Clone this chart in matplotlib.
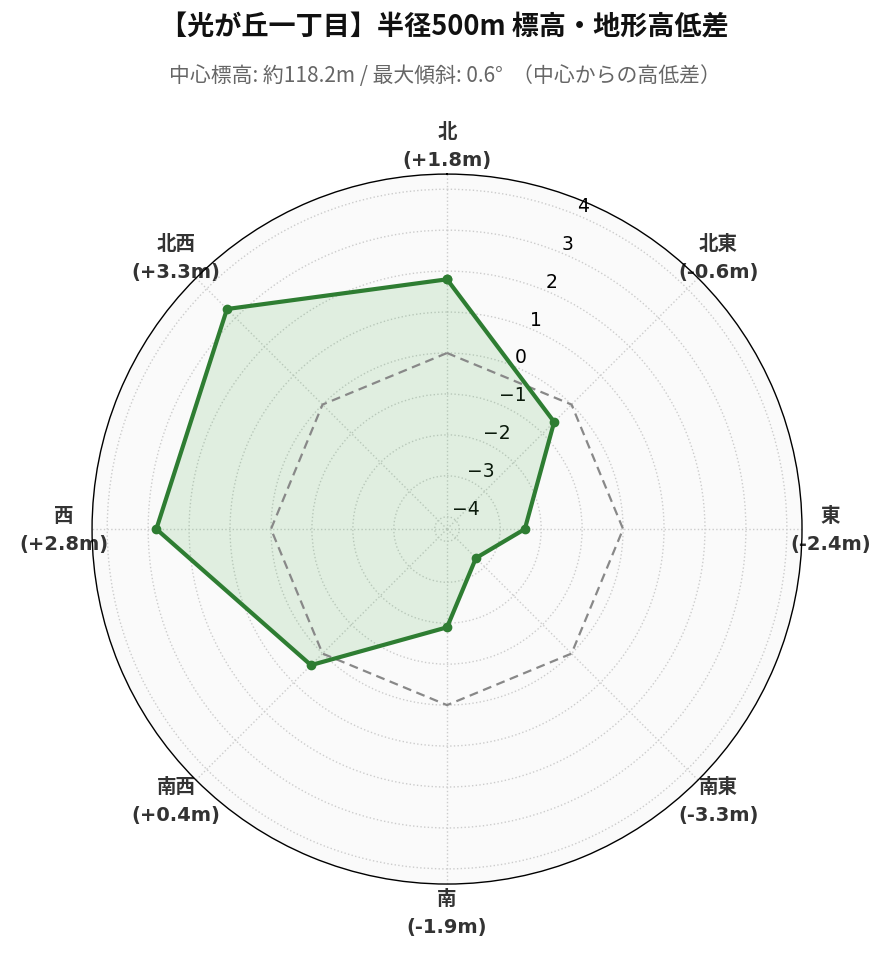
import matplotlib
matplotlib.use("Agg")
import matplotlib.pyplot as plt
import numpy as np

plt.rcParams['font.family'] = ['Noto Sans CJK JP', 'DejaVu Sans']

# data
directions = ['北', '北東', '東', '南東', '南', '南西', '西', '北西']
diffs = [1.8, -0.6, -2.4, -3.3, -1.9, 0.4, 2.8, 3.3]
radial_ticks = [-4, -3, -2, -1, 0, 1, 2, 3, 4]

title = '【光が丘一丁目】半径500m 標高・地形高低差'
subtitle = '中心標高: 約118.2m / 最大傾斜: 0.6°  （中心からの高低差）'

angles = np.deg2rad(np.arange(len(directions)) * 45.0)
ang_closed = np.append(angles, angles[0])
val_closed = np.append(diffs, diffs[0])

fig = plt.figure(figsize=(8.89, 9.62), dpi=100)
ax = fig.add_axes([0.1035, 0.080, 0.7987, 0.738], projection='polar')
ax.set_theta_zero_location('N')
ax.set_theta_direction(-1)
ax.set_facecolor('#fafafa')
ax.set_ylim(-4.3, 4.37)

# zero reference
ax.plot(ang_closed, np.zeros(len(ang_closed)), color='#888888', lw=1.6,
        ls=(0, (4, 2.5)), zorder=3)

ax.fill(ang_closed, val_closed, color='#4caf50', alpha=0.15, lw=0, zorder=2)
ax.plot(ang_closed, val_closed, color='#2e7d32', lw=3, marker='o',
        markersize=6, zorder=4)

ax.set_xticks(angles)
labels = ['%s\n(%+.1fm)' % (d, v) for d, v in zip(directions, diffs)]
ax.set_xticklabels(labels, fontsize=14, fontweight='bold', color='#333333',
                   linespacing=1.6, family=['DejaVu Sans', 'Noto Sans CJK JP'])
ax.tick_params(axis='x', pad=10)

ax.set_yticks(radial_ticks)
ax.set_yticklabels([str(t).replace('-', '\u2212') for t in radial_ticks],
                   fontsize=13.5, family='DejaVu Sans')
ax.set_rlabel_position(22.5)

ax.grid(True, color='#cccccc', ls=':', lw=1)
ax.spines['polar'].set_color('black')
ax.spines['polar'].set_linewidth(1)

fig.text(0.5, 0.971, title, ha='center', va='center', fontsize=19.5,
         fontweight='bold', color='#111111')
fig.text(0.5, 0.921, subtitle, ha='center', va='center', fontsize=15,
         color='#666666')

fig.savefig('out.png', dpi=100)
